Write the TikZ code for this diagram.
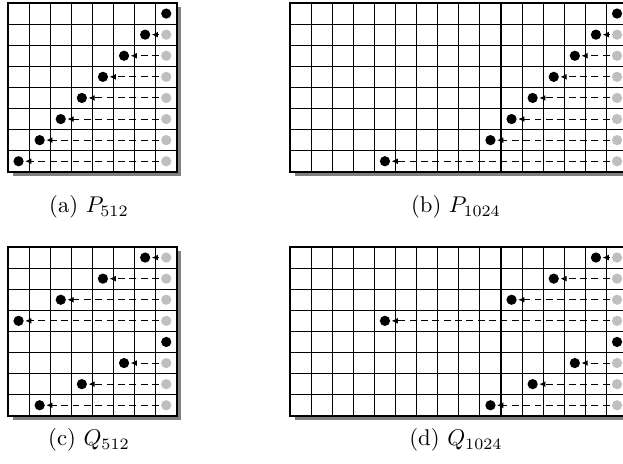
\documentclass[tikz,border=0pt]{standalone}
\usetikzlibrary{arrows.meta}
\tikzset{
  cell/.style={draw=black, line width=0.45pt},
  frame/.style={draw=black, line width=0.9pt},
  shadowbox/.style={fill=black!50, draw=none},
  bdot/.style={circle, fill=black, draw=none, inner sep=0pt, minimum size=4.5pt},
  gdot/.style={circle, fill=black!25, draw=none, inner sep=0pt, minimum size=4.5pt},
  move/.style={draw=black, line width=0.45pt, dash pattern=on 3pt off 2pt,
    -{Latex[length=2.7pt,width=2.6pt]}, shorten >=0.5pt, shorten <=0.8pt},
  captext/.style={inner sep=0pt, font=\normalsize}
}
% #1 name, #2 x0, #3 y0, #4 number of columns, #5 list of black columns per row
\newcommand{\gridpanel}[5]{%
  \pgfmathsetmacro\pw{#4*21.1}%
  \pgfmathtruncatemacro\lastc{#4-1}%
  \fill[shadowbox] (#2+4.5,#3+4) rectangle (#2+\pw+4.5,#3+168.8+4);
  \fill[white] (#2,#3) rectangle (#2+\pw,#3+168.8);
  \foreach \c in {1,...,\lastc} \draw[cell] (#2+\c*21.1,#3) -- (#2+\c*21.1,#3+168.8);
  \foreach \r in {1,...,7} \draw[cell] (#2,#3+\r*21.1) -- (#2+\pw,#3+\r*21.1);
  \draw[frame] (#2,#3) rectangle (#2+\pw,#3+168.8);
  \foreach \b [count=\r] in {#5} {
    \node[bdot] (#1b\r) at ({#2+(\b-0.5)*21.1},{#3+(\r-0.5)*21.1}) {};
    \ifnum\b<#4
      \node[gdot] (#1g\r) at ({#2+(#4-0.5)*21.1},{#3+(\r-0.5)*21.1}) {};
      \draw[move] (#1g\r) -- (#1b\r);
    \fi
  }
}
\begin{document}
\begin{tikzpicture}[x=0.44pt, y=-0.44pt]
  \useasboundingbox (0,0) rectangle (623,464);
  \clip (0,0) rectangle (623,464);
  \gridpanel{pa}{8}{3}{8}{8,7,6,5,4,3,2,1}
  \gridpanel{pb}{290}{3}{16}{16,15,14,13,12,11,10,5}
  \gridpanel{pc}{8}{247}{8}{7,5,3,1,8,6,4,2}
  \gridpanel{pd}{290}{247}{16}{15,13,11,5,16,14,12,10}
  \node[captext] (capa) at (89,207) {(a) $P_{512}$};
  \node[captext] (capb) at (456,207) {(b) $P_{1024}$};
  \node[captext] (capc) at (89,440) {(c) $Q_{512}$};
  \node[captext] (capd) at (456,440) {(d) $Q_{1024}$};
\end{tikzpicture}
\end{document}
